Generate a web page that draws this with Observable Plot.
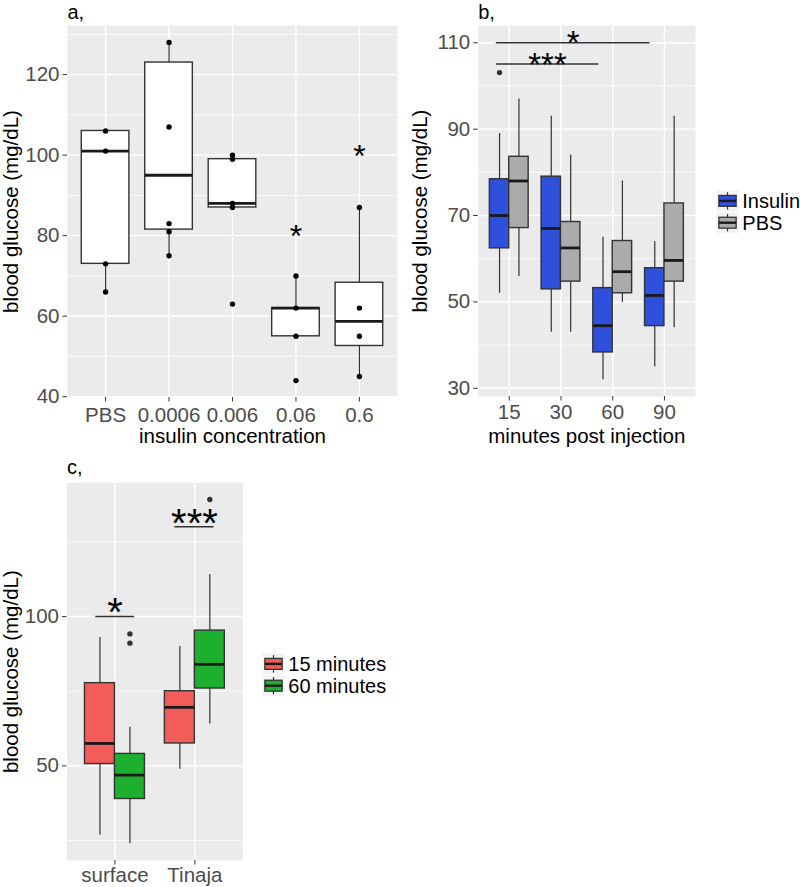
<!DOCTYPE html>
<html><head><meta charset="utf-8">
<script src="https://cdn.jsdelivr.net/npm/d3@7"></script>
<script src="https://cdn.jsdelivr.net/npm/@observablehq/plot@0.6"></script>
<style>
body{margin:0;background:#fff;font-family:"Liberation Sans",Arial,sans-serif;}
#root{position:relative;width:800px;height:887px;background:#fff;overflow:hidden}
.pw{position:absolute}
</style></head><body><div id="root"></div>
<script>
// ---------- data: panel a ----------
const concA = ["PBS","0.0006","0.006","0.06","0.6"];
const lowA  = [66, 75, 87, 55, 45];
const q1A   = [73, 81.5, 87, 55, 52.6];
const medA  = [101, 95, 88, 62, 58.7];
const q3A   = [106, 123, 99, 62, 68.3];
const highA = [106, 128, 100, 70, 87];
const ptGroupA = [1,1,1,1, 2,2,2,2,2, 3,3,3,3,3, 4,4,4,4, 5,5,5,5];
const ptValueA = [106,101,73,66, 128,107,83,81,75, 100,99,88,87,63, 70,62,55,44, 87,62,55,45];
const starGroupA = [4, 5];
const starValueA = [81.6, 101.5];
const starTextA  = ["*", "*"];

// ---------- data: panel b ----------
const timesB = ["15","30","60","90"];
const treatB = ["Insulin","PBS"];
const lowB  = {Insulin:[52, 43, 32, 35],       PBS:[55.9, 43, 49.9, 44]};
const q1B   = {Insulin:[62.4, 52.9, 38.3, 44.4], PBS:[67.1, 54.7, 52, 54.7]};
const medB  = {Insulin:[70, 67, 44.5, 51.5],   PBS:[78, 62.5, 57, 59.6]};
const q3B   = {Insulin:[78.4, 79, 53.2, 57.8], PBS:[83.6, 68.5, 64.1, 72.8]};
const highB = {Insulin:[89, 93, 65, 64],       PBS:[97, 84, 78, 93]};
const outTimeB = [1];
const outTreatB = ["Insulin"];
const outValueB = [103.1];
const brX1B = [0.75, 0.75];
const brX2B = [3.72, 2.73];
const brYB  = [110, 105.1];
const brTextB = ["*", "***"];

// ---------- data: panel c ----------
const sitesC = ["surface","Tinaja"];
const treatC = ["15 minutes","60 minutes"];
const lowC  = {"15 minutes":[26.8, 48.9], "60 minutes":[23.9, 64]};
const q1C   = {"15 minutes":[50.6, 57.5], "60 minutes":[38.9, 75.9]};
const medC  = {"15 minutes":[57.5, 69.6], "60 minutes":[46.9, 84]};
const q3C   = {"15 minutes":[77.7, 75],   "60 minutes":[54, 95.3]};
const highC = {"15 minutes":[93, 90],     "60 minutes":[62.9, 114.1]};
const outSiteC = [1, 1, 2];
const outTreatC = ["60 minutes","60 minutes","60 minutes"];
const outValueC = [94.2, 91.1, 139.2];
const brX1C = [0.76, 1.75];
const brX2C = [1.245, 2.24];
const brYC  = [100, 130.1];
const brTextC = ["*", "***"];

// ---------- styling ----------
const FONT = '"Liberation Sans", Arial, Helvetica, sans-serif';
const DARK = "#333333";
const colB = ["#2F50DA", "#ABABAB"];
const colC = ["#F35D59", "#1DB02E"];
const root = document.getElementById("root");

function place(node, left, top, w, h) {
  const d = document.createElement("div");
  d.className = "pw";
  d.style.left = left + "px"; d.style.top = top + "px";
  d.style.width = w + "px"; d.style.height = h + "px";
  d.appendChild(node);
  root.appendChild(d);
}

function boxRows(nCat, groups, low, q1, med, q3, high) {
  const rows = [];
  const bw = 0.75 / groups.length;
  groups.forEach((g, t) => {
    for (let i = 0; i < nCat; i++) {
      const x1 = i + 1 - 0.375 + t * bw;
      rows.push({g, x1, x2: x1 + bw, xc: x1 + bw / 2,
        low: low(g)[i], q1: q1(g)[i], med: med(g)[i], q3: q3(g)[i], high: high(g)[i]});
    }
  });
  return rows;
}

function boxMarks(rows, fill) {
  return [
    Plot.ruleX(rows, {x: "xc", y1: "low", y2: "q1", stroke: DARK, strokeWidth: 1.2}),
    Plot.ruleX(rows, {x: "xc", y1: "q3", y2: "high", stroke: DARK, strokeWidth: 1.2}),
    Plot.rect(rows, {x1: "x1", x2: "x2", y1: "q1", y2: "q3", fill, stroke: DARK, strokeWidth: 1.4}),
    Plot.ruleY(rows, {y: "med", x1: "x1", x2: "x2", stroke: "#1A1A1A", strokeWidth: 2.8})
  ];
}

function panel(o) {
  const xt = o.labels.map((_, i) => i + 1);
  return Plot.plot({
    width: o.width, height: o.height,
    marginLeft: o.ml, marginRight: o.mr, marginTop: o.mt, marginBottom: o.mb,
    style: {fontFamily: FONT, fontSize: "20.5px", background: "transparent", overflow: "visible"},
    x: {domain: [0.4, o.labels.length + 0.6]},
    y: {domain: o.yDomain},
    color: o.color || undefined,
    marks: [
      Plot.frame({fill: "#EBEBEB", stroke: "none"}),
      Plot.gridY(o.yMinor, {stroke: "white", strokeOpacity: 1, strokeWidth: 0.7}),
      Plot.gridY(o.yMajor, {stroke: "white", strokeOpacity: 1, strokeWidth: 1.4}),
      Plot.gridX(xt, {stroke: "white", strokeOpacity: 1, strokeWidth: 1.4}),
      ...o.marks,
      Plot.axisY(o.yMajor, {tickSize: 4.5, tickPadding: 3.5, stroke: DARK, fill: "#4D4D4D", label: null}),
      Plot.axisX(xt, {tickSize: 4.5, tickPadding: o.xPad, stroke: DARK, fill: "#4D4D4D",
        tickFormat: i => o.labels[i - 1], label: null}),
      Plot.text([o.yTitle], {text: d => d, frameAnchor: "left", textAnchor: "middle", lineAnchor: "middle",
        dx: o.yTitleDx, rotate: -90, fontSize: 20.5, fill: "black"}),
      ...(o.xTitle ? [Plot.text([o.xTitle], {text: d => d, frameAnchor: "bottom", textAnchor: "middle", dy: o.xTitleDy, lineAnchor: "middle", fontSize: 20.5, fill: "black"})] : []),
      Plot.text([o.tag], {text: d => d, frameAnchor: "top-left", textAnchor: "start", lineAnchor: "middle", dy: o.tagDy, fontSize: 20, fill: "black"})
    ]
  });
}

function legend(left, top, labels, colors) {
  const keyW = 23, keyH = 21.8, tx = 26.3;
  const svg = d3.create("svg").attr("width", 110).attr("height", keyH * labels.length + 2)
    .style("overflow", "visible");
  labels.forEach((lab, i) => {
    const g = svg.append("g").attr("transform", `translate(0,${i * keyH})`);
    g.append("rect").attr("x", 0).attr("y", 0).attr("width", keyW).attr("height", keyH)
      .attr("fill", "#F2F2F2").attr("stroke", "white").attr("stroke-width", 1);
    g.append("line").attr("x1", keyW / 2).attr("x2", keyW / 2).attr("y1", keyH * 0.1).attr("y2", keyH * 0.9)
      .attr("stroke", DARK).attr("stroke-width", 1.2);
    g.append("rect").attr("x", keyW * 0.125).attr("y", keyH * 0.25).attr("width", keyW * 0.75).attr("height", keyH * 0.5)
      .attr("fill", colors[i]).attr("stroke", DARK).attr("stroke-width", 1.3);
    g.append("line").attr("x1", keyW * 0.125).attr("x2", keyW * 0.875).attr("y1", keyH / 2).attr("y2", keyH / 2)
      .attr("stroke", "#1A1A1A").attr("stroke-width", 2.4);
    g.append("text").attr("x", tx).attr("y", keyH / 2).attr("dy", "0.35em")
      .attr("font-family", FONT).attr("font-size", 20).attr("fill", "black").text(lab);
  });
  place(svg.node(), left, top, 110, keyH * labels.length + 2);
}

// ---------- panel a ----------
const rowsA = boxRows(concA.length, ["all"], () => lowA, () => q1A, () => medA, () => q3A, () => highA);
const ptsA = ptGroupA.map((g, k) => ({x: g, y: ptValueA[k]}));
const starsA = starGroupA.map((g, k) => ({x: g, y: starValueA[k], t: starTextA[k]}));
const plotA = panel({
  width: 400, height: 447, ml: 67, mr: 3, mt: 25, mb: 50,
  labels: concA, yDomain: [39.8, 132.2], yMajor: [40,60,80,100,120], yMinor: [50,70,90,110,130],
  yTitle: "blood glucose (mg/dL)", yTitleDx: -56.5, xTitle: "insulin concentration", xTitleDy: 39,
  xPad: 5, tag: "a,", tagDy: -13,
  marks: [
    ...boxMarks(rowsA, "white"),
    Plot.dot(ptsA, {x: "x", y: "y", r: 2.7, fill: "black", stroke: "none"}),
    Plot.text(starsA, {x: "x", y: "y", text: "t", fontSize: 32, fill: "black", dy: 8})
  ]
});
place(plotA, 0, 0, 400, 447);

// ---------- panel b ----------
const rowsB = boxRows(timesB.length, treatB, g => lowB[g], g => q1B[g], g => medB[g], g => q3B[g], g => highB[g]);
const outB = outTimeB.map((i, k) => ({x: i - 0.375 + treatB.indexOf(outTreatB[k]) * 0.375 + 0.1875, y: outValueB[k]}));
const brB = brYB.map((y, k) => ({x1: brX1B[k], x2: brX2B[k], xm: (brX1B[k] + brX2B[k]) / 2, y, t: brTextB[k]}));
const plotB = panel({
  width: 300, height: 446, ml: 77.7, mr: 5, mt: 25, mb: 50,
  labels: timesB, yDomain: [28.1, 114], yMajor: [30,50,70,90,110], yMinor: [40,60,80,100],
  yTitle: "blood glucose (mg/dL)", yTitleDx: -57.7, xTitle: "minutes post injection", xTitleDy: 40,
  xPad: 3.5, tag: "b,", tagDy: -13,
  color: {domain: treatB, range: colB},
  marks: [
    ...boxMarks(rowsB, "g"),
    Plot.dot(outB, {x: "x", y: "y", r: 2.7, fill: DARK, stroke: "none"}),
    Plot.ruleY(brB, {y: "y", x1: "x1", x2: "x2", stroke: DARK, strokeWidth: 1.6}),
    Plot.text(brB, {x: "xm", y: "y", text: "t", fontSize: 33, fill: "black", dy: 1})
  ]
});
place(plotB, 400, 0, 300, 446);
legend(716.1, 190.3, treatB, colB);

// ---------- panel c ----------
const rowsC = boxRows(sitesC.length, treatC, g => lowC[g], g => q1C[g], g => medC[g], g => q3C[g], g => highC[g]);
const outC = outSiteC.map((i, k) => ({x: i - 0.375 + treatC.indexOf(outTreatC[k]) * 0.375 + 0.1875, y: outValueC[k]}));
const brC = brYC.map((y, k) => ({x1: brX1C[k], x2: brX2C[k], xm: (brX1C[k] + brX2C[k]) / 2, y, t: brTextC[k]}));
const plotC = panel({
  width: 250, height: 440, ml: 66.5, mr: 7.7, mt: 35.3, mb: 27,
  labels: sitesC, yDomain: [18.3, 144.8], yMajor: [50,100], yMinor: [25,75,125],
  yTitle: "blood glucose (mg/dL)", yTitleDx: -55.5, xTitle: null,
  xPad: 2.5, tag: "c,", tagDy: -15.6,
  color: {domain: treatC, range: colC},
  marks: [
    ...boxMarks(rowsC, "g"),
    Plot.dot(outC, {x: "x", y: "y", r: 2.7, fill: DARK, stroke: "none"}),
    Plot.ruleY(brC, {y: "y", x1: "x1", x2: "x2", stroke: DARK, strokeWidth: 1.6}),
    Plot.text(brC, {x: "xm", y: "y", text: "t", fontSize: 40, fill: "black", dy: -3})
  ]
});
place(plotC, 0, 447, 250, 440);
legend(262.1, 652.6, treatC, colC);
</script></body></html>
